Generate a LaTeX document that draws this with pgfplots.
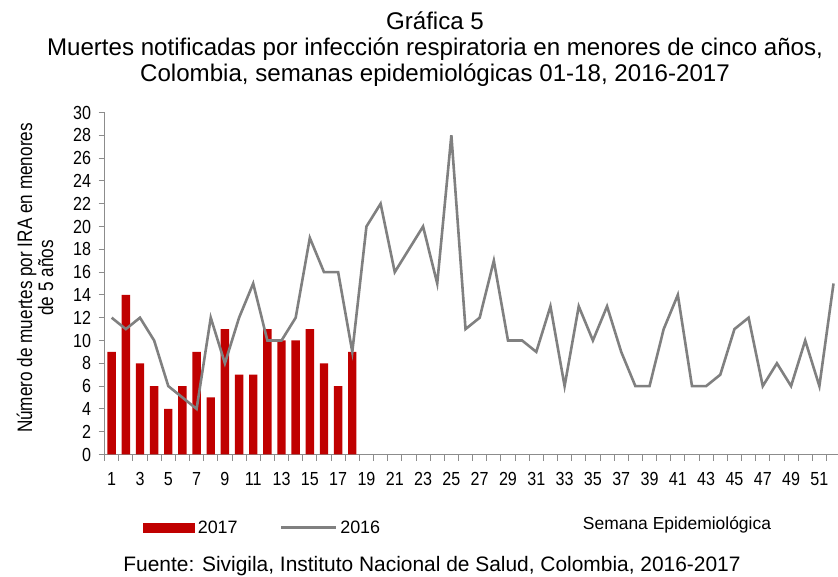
\documentclass[border=0pt]{standalone}
\usepackage{fontspec}
\setmainfont{Liberation Sans}
\newfontfamily\narrowfont{Liberation Sans}[FakeStretch=0.85]
\newfontfamily\labelfont{Liberation Sans}[FakeStretch=0.82]
\usepackage{pgfplots}
\pgfplotsset{compat=1.18}
\definecolor{barred}{HTML}{C00000}
\definecolor{linegray}{HTML}{808080}
\definecolor{axgray}{HTML}{8C8C8C}
\begin{document}
\begin{tikzpicture}
\useasboundingbox (0,0) rectangle (838bp,577bp);
\begin{axis}[
  at={(104.6bp,122.5bp)}, anchor=south west,
  scale only axis, width=736bp, height=342bp,
  xmin=0.5, xmax=52.5, ymin=0, ymax=30,
  axis x line*=bottom, axis y line*=left,
  axis line style={axgray, line width=0.9bp},
  every tick/.style={axgray, line width=0.9bp},
  tick align=outside,
  ytick={0,2,...,30},
  xtick={1,3,...,51},
  major x tick style={draw=none},
  minor xtick={0.5,1.5,...,52.5},
  minor tick length=6bp, major tick length=6bp,
  /pgf/number format/assume math mode=true,
  tick label style={font=\narrowfont\fontsize{19}{21}\selectfont},
  yticklabel style={anchor=east, xshift=-4bp},
  xticklabel style={anchor=north, yshift=-8bp},
  legend style={at={(axis description cs:0.0523,-0.2135)}, anchor=west, draw=none, fill=none,
    inner sep=0pt, font=\fontsize{18}{20}\selectfont, nodes={inner sep=2.5bp},
    /tikz/every even column/.append style={column sep=40bp}},
  legend columns=2,
]
\addplot[ybar, bar width=8.4bp, fill=barred, draw=none,
  legend image code/.code={\fill[barred] (0bp,-5bp) rectangle (52bp,5bp);}]
  coordinates {(1,9) (2,14) (3,8) (4,6) (5,4) (6,6) (7,9) (8,5) (9,11) (10,7) (11,7) (12,11) (13,10) (14,10) (15,11) (16,8) (17,6) (18,9)};
\addlegendentry{2017}
\addplot[linegray, line width=2.6bp, mark=none,
  legend image code/.code={\draw[linegray, line width=2.6bp] (0bp,0bp) -- (55bp,0bp);}]
  coordinates {(1,12) (2,11) (3,12) (4,10) (5,6) (6,5) (7,4) (8,12) (9,8) (10,12) (11,15) (12,10) (13,10) (14,12) (15,19) (16,16) (17,16) (18,9) (19,20) (20,22) (21,16) (22,18) (23,20) (24,15) (25,28) (26,11) (27,12) (28,17) (29,10) (30,10) (31,9) (32,13) (33,6) (34,13) (35,10) (36,13) (37,9) (38,6) (39,6) (40,11) (41,14) (42,6) (43,6) (44,7) (45,11) (46,12) (47,6) (48,8) (49,6) (50,10) (51,6) (52,15)};
\addlegendentry{2016}
\end{axis}
\node[anchor=base, font=\fontsize{24.2}{27}\selectfont] at (435bp,547bp) {Gráfica 5};
\node[anchor=base, font=\fontsize{24.2}{27}\selectfont] at (435bp,521bp) {Muertes notificadas por infección respiratoria en menores de cinco años,};
\node[anchor=base, font=\fontsize{24.2}{27}\selectfont] at (435bp,495bp) {Colombia, semanas epidemiológicas 01-18, 2016-2017};
\node[anchor=base, rotate=90, font=\labelfont\fontsize{21}{23}\selectfont] at (32bp,299bp) {Número de muertes por IRA en menores};
\node[anchor=base, rotate=90, font=\labelfont\fontsize{21}{23}\selectfont] at (53bp,299bp) {de 5 años};
\node[anchor=base, font=\fontsize{17.5}{20}\selectfont] at (677bp,47bp) {Semana Epidemiológica};
\node[anchor=base, font=\fontsize{21}{24}\selectfont] at (432bp,6bp) {Fuente: Sivigila, Instituto Nacional de Salud, Colombia, 2016-2017};
\end{tikzpicture}
\end{document}
